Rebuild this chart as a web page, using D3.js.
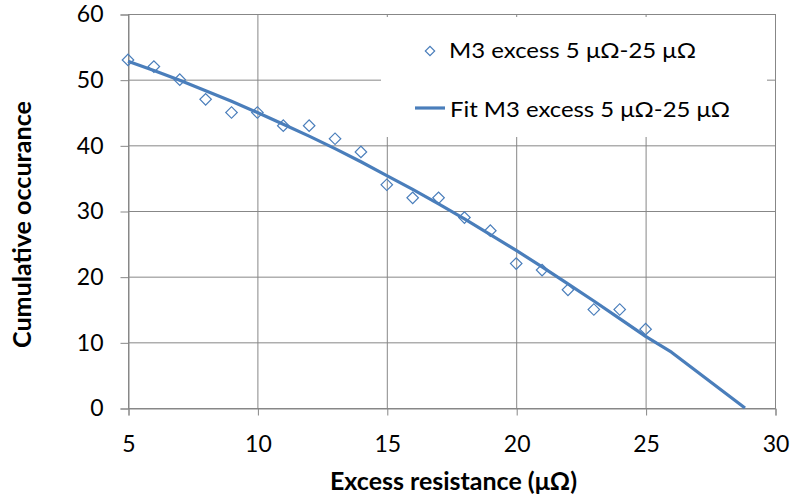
<!DOCTYPE html>
<html>
<head>
<meta charset="utf-8">
<script src="https://cdn.jsdelivr.net/npm/d3@7"></script>
<style>
  html, body { margin: 0; padding: 0; background: #fff; }
  svg { display: block; font-family: Lato, "Open Sans", sans-serif; }
</style>
</head>
<body>
<svg id="chart" width="791" height="499"></svg>
<script>
// Measured cumulative occurrence per excess resistance (µΩ)
const resistance = [5, 6, 7, 8, 9, 10, 11, 12, 13, 14, 15, 16, 17, 18, 19, 20, 21, 22, 23, 24, 25];
const occurrence = [53, 52, 50, 47, 45, 45, 43, 43, 41, 39, 34, 32, 32, 29, 27, 22, 21, 18, 15, 15, 12];

// Fitted curve sample points
const fitX = [5, 6, 7, 8, 9, 10, 11, 12, 13, 14, 15, 16, 17, 18, 19, 20, 21, 22, 23, 24, 25, 26, 28.84];
const fitY = [52.8, 51.4, 49.9, 48.3, 46.7, 45.0, 43.2, 41.4, 39.5, 37.5, 35.4, 33.3, 31.1, 28.8, 26.4, 24.0, 21.5, 18.9, 16.3, 13.6, 10.9, 8.5, 0];

const xTicks = [5, 10, 15, 20, 25, 30];
const yTicks = [0, 10, 20, 30, 40, 50, 60];

const seriesName = "M3 excess 5 μΩ-25 μΩ";
const fitName = "Fit M3 excess 5 μΩ-25 μΩ";
const xTitle = "Excess resistance (μΩ)";
const yTitle = "Cumulative occurance";

const blue = "#4a7ebb";
const gridColor = "#878787";

const svg = d3.select("#chart");
const plotLeft = 128, plotRight = 775, plotTop = 14, plotBottom = 408;

const x = d3.scaleLinear().domain([5, 30]).range([plotLeft, plotRight]);
const y = d3.scaleLinear().domain([0, 60]).range([plotBottom, plotTop]);

// Gridlines
const grid = svg.append("g");
grid.selectAll(".vg").data(xTicks).join("line")
  .attr("x1", d => x(d) + 0.5).attr("x2", d => x(d) + 0.5)
  .attr("y1", plotTop).attr("y2", plotBottom)
  .attr("stroke", gridColor).attr("stroke-width", 1);
grid.selectAll(".hg").data(yTicks).join("line")
  .attr("x1", plotLeft).attr("x2", plotRight + 1)
  .attr("y1", d => y(d) + 0.5).attr("y2", d => y(d) + 0.5)
  .attr("stroke", gridColor).attr("stroke-width", 1);

// Axes
const xAxis = d3.axisBottom(x).tickValues(xTicks).tickSize(7).tickPadding(20).tickFormat(d3.format("d"));
const yAxis = d3.axisLeft(y).tickValues(yTicks).tickSize(8).tickPadding(17).tickFormat(d3.format("d"));

const gx = svg.append("g").attr("transform", `translate(0.5,${plotBottom + 0.5})`).call(xAxis);
const gy = svg.append("g").attr("transform", `translate(${plotLeft + 0.5},0.5)`).call(yAxis);
[gx, gy].forEach(g => {
  g.select(".domain").attr("stroke", gridColor);
  g.selectAll(".tick line").attr("stroke", gridColor);
  g.selectAll(".tick text").attr("fill", "#000").style("font-size", "23px").style("font-family", "Lato, sans-serif");
});

// Legend background
const legend = svg.append("g");
legend.append("rect").attr("x", 381).attr("y", 17).attr("width", 386).attr("height", 120).attr("fill", "#fff");

// Data markers
const marker = d3.symbol(d3.symbolSquare, 66);
svg.append("g").selectAll("path").data(resistance).join("path")
  .attr("d", marker)
  .attr("transform", (d, i) => `translate(${x(d)},${y(occurrence[i])}) rotate(45)`)
  .attr("fill", "none").attr("stroke", blue).attr("stroke-width", 1.2);

// Fit line
const line = d3.line().x(d => x(d[0])).y(d => y(d[1]));
svg.append("path")
  .datum(fitX.map((v, i) => [v, fitY[i]]))
  .attr("d", line)
  .attr("fill", "none").attr("stroke", blue).attr("stroke-width", 3.2)
  .attr("stroke-linejoin", "round");

// Legend entries
legend.append("path").attr("d", d3.symbol(d3.symbolSquare, 44))
  .attr("transform", "translate(430,51) rotate(45)")
  .attr("fill", "none").attr("stroke", blue).attr("stroke-width", 1.2);
legend.append("text").attr("x", 449).attr("y", 58).text(seriesName)
  .attr("textLength", 247).attr("lengthAdjust", "spacingAndGlyphs")
  .style("font-size", "22px").attr("fill", "#000");
legend.append("line").attr("x1", 415).attr("x2", 445).attr("y1", 108).attr("y2", 108)
  .attr("stroke", blue).attr("stroke-width", 3.2);
legend.append("text").attr("x", 450).attr("y", 117).text(fitName)
  .attr("textLength", 280).attr("lengthAdjust", "spacingAndGlyphs")
  .style("font-size", "22px").attr("fill", "#000");

// Axis titles
svg.append("text").attr("x", 330).attr("y", 490)
  .attr("textLength", 247).attr("lengthAdjust", "spacingAndGlyphs")
  .style("font-size", "25px").style("font-weight", "bold").text(xTitle);
svg.append("text").attr("transform", "translate(31,348) rotate(-90)")
  .attr("textLength", 247).attr("lengthAdjust", "spacingAndGlyphs")
  .style("font-size", "25px").style("font-weight", "bold").text(yTitle);
</script>
</body>
</html>
